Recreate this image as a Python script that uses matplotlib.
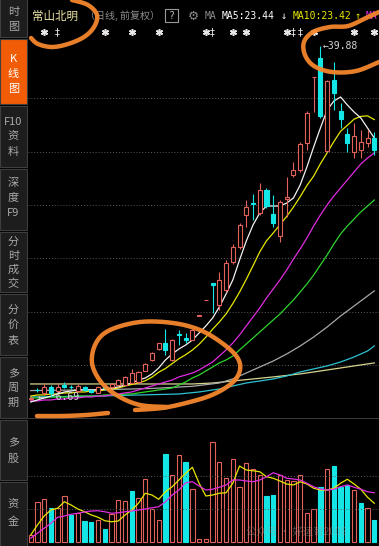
import numpy as np
import matplotlib
matplotlib.use("Agg")
import matplotlib.pyplot as plt
from matplotlib.patches import Rectangle
from matplotlib import transforms

W, H = 379, 546

# ---- daily candles ----
opens = [6.85, 7.70, 7.38, 7.94, 7.56, 8.10, 7.98, 7.56, 7.90, 7.66,
         7.40, 7.90, 7.90, 8.13, 8.13, 8.31, 8.41, 9.44, 10.47, 11.50,
         12.06, 10.47, 12.95, 12.50, 12.34, 14.60, 16.06, 17.68, 15.62, 17.03,
         19.65, 21.06, 24.06, 25.20, 24.25, 26.40, 24.15, 22.10, 25.56, 27.81,
         28.28, 30.81, 36.97, 38.77, 30.06, 36.70, 33.80, 31.65, 29.96, 30.15,
         30.81, 31.27]
highs = [7.05, 7.82, 8.31, 8.13, 8.31, 8.41, 8.15, 8.22, 8.00, 7.75,
         8.00, 8.00, 8.30, 8.70, 8.95, 9.60, 9.40, 10.20, 11.20, 12.10,
         13.37, 12.45, 13.28, 13.00, 13.40, 14.61, 16.07, 17.68, 18.72, 19.80,
         21.30, 23.30, 25.46, 26.00, 27.06, 26.60, 25.90, 25.50, 27.60, 29.00,
         30.90, 33.80, 36.98, 39.88, 36.70, 38.40, 34.55, 32.21, 32.68, 32.00,
         32.00, 31.84]
lows = [6.69, 7.50, 7.19, 7.10, 7.47, 7.85, 7.75, 7.50, 7.60, 7.40,
        7.35, 7.70, 7.85, 8.05, 8.10, 8.30, 8.35, 9.40, 10.40, 11.45,
        10.94, 10.40, 11.87, 12.06, 12.30, 14.60, 16.06, 14.90, 15.15, 16.80,
        19.50, 20.90, 22.90, 23.60, 24.06, 24.70, 22.95, 21.50, 23.87, 27.60,
        28.10, 30.15, 33.70, 33.15, 30.00, 33.90, 32.20, 29.96, 29.40, 29.40,
        30.43, 29.68]
closes = [6.95, 7.62, 7.94, 7.38, 7.94, 7.95, 7.92, 8.03, 7.70, 7.47,
          7.90, 7.80, 8.20, 8.59, 8.88, 9.25, 9.34, 10.09, 11.12, 12.06,
          11.40, 12.34, 12.80, 12.35, 13.28, 14.61, 16.07, 17.45, 17.97, 19.56,
          21.06, 23.12, 24.81, 25.10, 26.40, 24.90, 23.31, 25.30, 25.74, 28.28,
          30.71, 33.62, 36.98, 33.34, 36.61, 35.49, 33.06, 30.81, 31.46, 30.90,
          31.27, 30.15]

ma5 = [6.53, 6.72, 6.91, 7.09, 7.28, 7.47, 7.56, 7.66, 7.66, 7.66,
       7.66, 7.75, 7.84, 7.94, 8.13, 8.31, 8.59, 8.78, 9.16, 9.72,
       10.47, 11.03, 11.50, 11.87, 12.34, 13.00, 13.66, 14.40, 15.44, 16.65,
       17.97, 19.84, 21.62, 23.12, 24.25, 24.90, 24.90, 24.90, 25.18, 25.65,
       26.87, 28.56, 30.43, 32.21, 33.90, 34.74, 35.12, 34.37, 33.71, 33.15,
       32.21, 31.27]
ma10 = [7.09, 7.19, 7.19, 7.28, 7.28, 7.38, 7.38, 7.47, 7.47, 7.56,
        7.56, 7.66, 7.75, 7.84, 8.03, 8.17, 8.32, 8.52, 8.86, 9.32,
        9.67, 10.13, 10.59, 10.96, 11.40, 11.94, 12.61, 13.35, 14.03, 14.78,
        15.75, 16.83, 18.03, 19.30, 20.60, 21.64, 22.37, 23.15, 23.93, 24.80,
        25.77, 26.82, 27.70, 28.86, 29.88, 30.94, 31.91, 32.46, 33.04, 33.30,
        33.35, 33.00]
ma20 = [6.63, 6.63, 6.72, 6.72, 6.81, 6.81, 6.91, 6.91, 7.00, 7.00,
        7.09, 7.09, 7.19, 7.28, 7.38, 7.47, 7.66, 7.84, 8.03, 8.22,
        8.41, 8.59, 8.88, 9.06, 9.25, 9.53, 9.91, 10.28, 10.84, 11.41,
        12.06, 12.81, 13.66, 14.50, 15.34, 16.28, 17.12, 17.97, 18.90, 19.93,
        20.87, 21.90, 23.03, 24.06, 25.00, 25.84, 26.59, 27.34, 28.09, 28.84,
        29.40, 29.87]
ma30 = [6.91, 6.91, 6.91, 7.00, 7.00, 7.00, 7.00, 7.09, 7.09, 7.09,
        7.09, 7.19, 7.19, 7.19, 7.28, 7.28, 7.38, 7.47, 7.56, 7.66,
        7.75, 7.84, 8.12, 8.41, 8.78, 9.06, 9.44, 9.81, 10.19, 10.47,
        10.84, 11.41, 11.97, 12.53, 13.09, 13.66, 14.22, 14.78, 15.44, 16.09,
        16.84, 17.59, 18.43, 19.37, 20.31, 21.34, 22.28, 23.03, 23.68, 24.34,
        24.90, 25.46]
# slow averages, read at a few candles only
ma60_idx = [0, 6, 12, 18, 24, 28, 30, 32, 34, 36, 38, 40, 42, 44, 46, 48, 50, 51]
ma60 = [7.60, 7.65, 7.70, 7.80, 8.00, 8.31, 8.69, 9.25, 9.81, 10.37,
        11.03, 11.78, 12.62, 13.56, 14.59, 15.53, 16.47, 16.94]
ma120_idx = [0, 10, 22, 25, 28, 30, 32, 34, 36, 38, 40, 42, 44, 46, 48, 50, 51]
ma120 = [7.00, 7.09, 7.28, 7.47, 7.75, 8.03, 8.31, 8.50, 8.69, 8.97,
         9.34, 9.63, 9.91, 10.28, 10.75, 11.31, 11.78]
ma250_idx = [0, 12, 24, 27, 30, 33, 36, 40, 44, 48, 51]
ma250 = [8.22, 8.22, 8.22, 8.31, 8.50, 8.69, 8.88, 9.16, 9.53, 9.91, 10.19]

# volume in 万 shares
volume = [28, 159, 171, 135, 135, 184, 108, 115, 84, 79,
          88, 52, 112, 168, 164, 204, 175, 251, 131, 88,
          352, 268, 348, 319, 211, 11, 11, 401, 321, 255,
          331, 219, 315, 291, 268, 184, 188, 268, 248, 244,
          268, 117, 131, 221, 291, 304, 221, 228, 208, 155,
          135, 88]
vol_up = [1, 1, 1, 0, 1, 1, 0, 1, 0, 0, 1, 0, 1, 1, 1, 0, 1, 1, 1, 1,
          0, 1, 1, 0, 1, 1, 1, 1, 1, 1, 1, 1, 1, 1, 1, 0, 0, 1, 1, 1,
          1, 1, 1, 0, 1, 0, 0, 0, 1, 0, 1, 0]
mavol1 = [28, 68, 104, 128, 135, 161, 148, 132, 121, 108,
          99, 85, 81, 84, 108, 128, 155, 195, 188, 171,
          201, 221, 248, 275, 299, 235, 184, 188, 195, 197,
          235, 304, 288, 285, 281, 261, 255, 244, 232, 228,
          241, 232, 215, 208, 208, 215, 235, 251, 232, 211,
          179, 155]
mavol2 = [15, 35, 55, 75, 99, 104, 111, 115, 120, 124,
          125, 121, 115, 117, 121, 124, 128, 132, 137, 141,
          161, 188, 208, 237, 241, 224, 208, 211, 219, 228,
          248, 248, 244, 241, 248, 261, 277, 268, 255, 252,
          248, 235, 221, 212, 208, 211, 221, 228, 219, 211,
          201, 197]

# news flags above the candles
flag_idx = [2, 4, 11, 15, 19, 26, 27, 30, 32, 38, 39, 40, 42, 48, 51]
flag_kind = ['*', '‡', '*', '*', '*', '*', '‡', '*', '*', '*', '‡', '‡', '*', '*', '*']

RED = '#e2615a'
CYAN = '#14e6e6'
ORANGE = '#f5862c'
CJK = ['Noto Sans CJK SC', 'DejaVu Sans']
MONO = ['DejaVu Sans Mono', 'Noto Sans CJK SC']


def px_axes(fig, x0, y0, x1, y1, z):
    a = fig.add_axes([x0 / W, 1 - y1 / H, (x1 - x0) / W, (y1 - y0) / H])
    a.set_zorder(z)
    return a


def smooth(pts, n=12):
    # catmull-rom through the hand-drawn stroke points
    p = np.array(pts, float)
    p = np.vstack([p[0], p, p[-1]])
    out = []
    for k in range(1, len(p) - 2):
        p0, p1, p2, p3 = p[k - 1], p[k], p[k + 1], p[k + 2]
        for t in np.linspace(0, 1, n, endpoint=False):
            t2, t3 = t * t, t * t * t
            out.append(0.5 * (2 * p1 + (-p0 + p2) * t + (2 * p0 - 5 * p1 + 4 * p2 - p3) * t2
                              + (-p0 + 3 * p1 - 3 * p2 + p3) * t3))
    out.append(p[-2])
    return np.array(out)


fig = plt.figure(figsize=(W / 100, H / 100), dpi=100, facecolor='black')

# background layer: sidebar + header
bg = px_axes(fig, 0, 0, W, H, 0)
bg.set_xlim(0, W)
bg.set_ylim(H, 0)
bg.axis('off')

side = [(['时', '图'], [12, 27], -5, 37, False),
        (['K', '线', '图'], [59, 74, 89], 39, 104, True),
        (['F10', '资', '料'], [122, 137, 152], 106, 167, False),
        (['深', '度', 'F9'], [183, 198, 213], 169, 230, False),
        (['分', '时', '成', '交'], [242, 256, 270, 284], 232, 292, False),
        (['分', '价', '表'], [310, 325, 340], 294, 355, False),
        (['多', '周', '期'], [373, 388, 403], 357, 418, False),
        (['多', '股'], [442, 459], 420, 480, False),
        (['资', '金'], [505, 522], 482, 550, False)]
for chars, ys, top, bot, active in side:
    bg.add_patch(Rectangle((0, top), 26.5, bot - top,
                           facecolor='#f15c06' if active else '#1d1d1d',
                           edgecolor='#3e3e3e', lw=0.8))
    for ch, y in zip(chars, ys):
        bg.text(13.5, y, ch, ha='center', va='center', fontsize=8,
                color='white' if active else '#a9a9a9', family=CJK)

bg.text(32, 16, '常山北明', fontsize=8.3, color='#efe7a6', va='center', family=CJK)
bg.text(85, 16, '（日线, 前复权）', fontsize=7.2, color='#8c8c8c', va='center', family=CJK)
bg.add_patch(Rectangle((165, 9), 13, 13, facecolor='none', edgecolor='#9a9a9a', lw=0.8))
bg.text(171.5, 16, '?', fontsize=7, color='#bbbbbb', ha='center', va='center', family=MONO)
bg.text(193, 16, '⚙', fontsize=9, color='#8c8c8c', ha='center', va='center', family=['DejaVu Sans'])
bg.text(205, 16, 'MA', fontsize=7, color='#8c8c8c', va='center', family=MONO)
bg.text(222, 16, 'MA5:23.44', fontsize=7, color='white', va='center', family=MONO)
bg.text(284, 16, '↓', fontsize=7.5, color='white', ha='center', va='center', family=MONO)
bg.text(293, 16, 'MA10:23.42', fontsize=7, color='#e8e800', va='center', family=MONO)
bg.text(358, 16, '↑', fontsize=7.5, color='#e8e800', ha='center', va='center', family=MONO)
bg.text(366, 16, 'MA', fontsize=7, color='#e02ce0', va='center', family=MONO)

# volume header
bg.plot([28, W], [418, 418], color='#3a3a3a', lw=0.8)
bg.add_patch(Rectangle((30, 424), 12, 12, facecolor='none', edgecolor='#9a9a9a', lw=0.8))
bg.text(36, 430, '?', fontsize=6.5, color='#bbbbbb', ha='center', va='center', family=MONO)
bg.text(49, 430, 'VOL(5,10)', fontsize=7, color='#8c8c8c', va='center', family=MONO)
bg.text(108, 430, 'VOLUME:82.248万', fontsize=7, color='white', va='center', family=MONO)
bg.text(201, 430, '↓', fontsize=7.5, color='white', ha='center', va='center', family=MONO)
bg.text(211, 430, 'MAVOL1:98.726万', fontsize=7, color='#e8e800', va='center', family=MONO)
bg.text(305, 430, '↓', fontsize=7.5, color='#e8e800', ha='center', va='center', family=MONO)
bg.text(313, 430, 'MAVOL2:132.5', fontsize=6.5, color='#e02ce0', va='center', family=MONO)

# ---- price panel ----
x = np.arange(len(closes))
ax = px_axes(fig, 28, 40, W, 418, 1)
ax.set_facecolor('black')
ax.set_xlim(-0.40, 51.70)
ax.set_ylim(5.03, 40.46)
ax.set_yticks([10, 15, 20, 25, 30, 35])
ax.grid(axis='y', color='#5a5a5a', lw=0.7, ls=(0, (1, 2)))
ax.tick_params(left=False, bottom=False, labelleft=False, labelbottom=False)
for s in ax.spines.values():
    s.set_visible(False)

ax.plot(ma250_idx, ma250, color='#d8d48e', lw=0.9)
ax.plot(ma120_idx, ma120, color='#2fc2d2', lw=0.9)
ax.plot(ma60_idx, ma60, color='#a8a8a8', lw=0.9)
ax.plot(x, ma30, color='#2ed42e', lw=0.9)
ax.plot(x, ma20, color='#e02ce0', lw=0.9)
ax.plot(x, ma10, color='#e6e600', lw=0.9)
ax.plot(x, ma5, color='#f2f2f2', lw=0.9)

for i in x:
    o, h, l, c = opens[i], highs[i], lows[i], closes[i]
    up = c >= o
    col = RED if up else CYAN
    top, bot = max(o, c), min(o, c)
    ax.vlines(i, top, h, color=col, lw=0.8, zorder=3)
    ax.vlines(i, l, bot, color=col, lw=0.8, zorder=3)
    ax.add_patch(Rectangle((i - 0.3, bot), 0.6, max(top - bot, 0.06),
                           facecolor='black' if up else col, edgecolor=col, lw=0.8, zorder=4))

imax = int(np.argmax(highs))
imin = int(np.argmin(lows))
ax.text(imax + 0.35, highs[imax], '←' + f'{highs[imax]:.2f}', fontsize=7, color='#d6d6d6',
        va='center', family=MONO, zorder=5)
ax.text(imin + 1.1, lows[imin] + 0.3, '←  ' + f'{lows[imin]:.2f}', fontsize=7, color='#d6d6d6',
        va='center', family=MONO, zorder=5)

flag_tr = transforms.blended_transform_factory(ax.transData, bg.transData)
for i, k in zip(flag_idx, flag_kind):
    if k == '*':
        bg.plot([i], [32], marker=(6, 2, 0), ms=5, mew=1.1, color='#e8e8e8', transform=flag_tr)
    else:
        bg.text(i, 32, '‡', fontsize=7, color='#e8e8e8', ha='center', va='center',
                transform=flag_tr, family=['DejaVu Sans'])

# ---- volume panel ----
vx = px_axes(fig, 28, 419, W, H, 1)
vx.set_facecolor('black')
vx.set_xlim(-0.40, 51.70)
vx.set_ylim(-16, 492)
vx.set_yticks([133, 266])
vx.grid(axis='y', color='#5a5a5a', lw=0.7, ls=(0, (1, 2)))
vx.tick_params(left=False, bottom=False, labelleft=False, labelbottom=False)
for s in vx.spines.values():
    s.set_visible(False)
for i in x:
    col = RED if vol_up[i] else CYAN
    vx.add_patch(Rectangle((i - 0.32, 0), 0.64, volume[i],
                           facecolor='black' if vol_up[i] else col, edgecolor=col, lw=0.8))
vx.plot(x, mavol1, color='#e6e600', lw=0.9, zorder=3)
vx.plot(x, mavol2, color='#e02ce0', lw=0.9, zorder=3)
vx.text(0.62, 0.09, '公众号 · 好运哥2008', transform=vx.transAxes, fontsize=7.5,
        color='#9a9a9a', alpha=0.45, family=CJK, zorder=5)

# ---- hand-drawn orange marks ----
top = px_axes(fig, 0, 0, W, H, 5)
top.set_xlim(0, W)
top.set_ylim(H, 0)
top.axis('off')
strokes = [
    [(72, 0), (88, 5), (97, 15), (94, 27), (84, 37), (68, 44), (52, 47), (38, 44), (31, 38)],
    [(379, 12), (366, 18), (348, 26), (330, 27), (313, 32), (304, 42), (305, 55), (314, 66),
     (332, 72), (356, 71), (379, 62)],
    [(167, 407), (140, 405), (118, 396), (101, 382), (92, 363), (96, 343), (110, 330), (140, 322),
     (173, 323), (200, 330), (222, 343), (237, 357), (240, 370), (232, 383), (212, 395),
     (186, 403), (162, 408), (135, 410)],
    [(37, 416), (62, 416), (86, 415), (108, 413)],
]
for s in strokes:
    p = smooth(s)
    top.plot(p[:, 0], p[:, 1], color=ORANGE, lw=3.2, solid_capstyle='round', alpha=0.95)

fig.savefig('out.png', dpi=100, facecolor='black')
